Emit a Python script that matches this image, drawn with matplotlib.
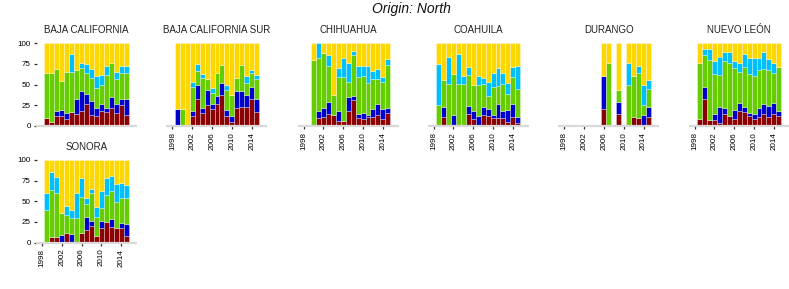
import matplotlib.pyplot as plt
import numpy as np

plt.rcParams['font.family'] = ['Liberation Sans', 'DejaVu Sans']

years = np.arange(1999, 2016)
n = np.nan

states = ["BAJA CALIFORNIA", "BAJA CALIFORNIA SUR", "CHIHUAHUA", "COAHUILA",
          "DURANGO", "NUEVO LEÓN", "SONORA"]

# shares in percent, bottom to top: red, blue, green, sky, gold
bc_red = [9, 4.5, 12, 12, 8, 17, 14, 18, 27, 13, 12, 18, 17, 22, 16, 25, 13]
bc_blue = [0, 0, 6, 7.5, 7, 0, 18, 24.5, 11.5, 17, 10, 8, 4, 13, 10, 7, 20]
bc_green = [54.5, 59, 51, 34.5, 50, 48, 36, 27.5, 25.5, 28, 24, 23, 40.5, 41, 31, 31.5, 30.5]
bc_sky = [0, 0, 0, 0, 0, 22, 0, 6, 11, 11, 14, 12.5, 11.5, 0, 8.5, 9.5, 9.5]
bc_gold = [36.5, 36.5, 31, 46, 35, 13, 32, 24, 25, 31, 40, 38.5, 27, 24, 34.5, 27, 27]

bcs_red = [0, 0, 0, 12, 33, 16, 25, 20, 27, 37, 12, 5, 21, 23, 23, 32, 17]
bcs_blue = [20, 0, 0, 6, 17, 5, 19, 7, 9, 15, 7, 7, 21, 19, 14, 15, 16]
bcs_green = [0, 20, 0, 29, 16.5, 37, 12.5, 13, 28, 22, 25, 25.5, 16, 31.5, 15, 17.5, 23.5]
bcs_sky = [0, 0, 0, 6, 8.5, 5, 0, 6, 0, 0, 5.5, 0, 0, 0, 8, 3.5, 4.5]
bcs_gold = [80, 80, 100, 47, 25, 37, 43.5, 54, 36, 26, 50.5, 62.5, 42, 26.5, 40, 32, 39]

chih_red = [n, 0, 9, 10.5, 14.5, 12.5, 6, 6, 18, 31.5, 10, 8, 10.5, 10.5, 13, 8.5, 15]
chih_blue = [n, 0, 9, 11.5, 14.5, 0, 12, 0, 17.5, 5, 4, 7, 3, 9.5, 13, 12, 6]
chih_green = [n, 80, 64, 66.5, 43, 25, 41, 53, 18, 49.5, 45, 45.5, 38, 36.5, 30.5, 32.5, 53]
chih_sky = [n, 0, 18, 0, 13.5, 0, 11.5, 23, 23, 4.5, 13.5, 11.5, 21, 10, 12, 6, 7]
chih_gold = [n, 20, 0, 11.5, 14.5, 62.5, 29.5, 18, 23.5, 9.5, 27.5, 28, 27.5, 33.5, 31.5, 41, 19]

coah_red = [0, 10.5, 0, 0, 0, 0, 14.5, 8.5, 0, 13.5, 12, 10, 9.5, 9, 5, 10.5, 3]
coah_blue = [0, 12, 0, 12.5, 0, 0, 9.5, 9, 11.5, 9, 8, 3.5, 17, 9, 14.5, 15.5, 7.5]
coah_green = [25, 33, 50.5, 50, 50.5, 50.5, 37.5, 32, 38, 28.5, 16.5, 33.5, 22, 33, 19, 33, 34]
coah_sky = [50, 0, 32.5, 0, 36.5, 9.5, 9.5, 0, 11, 7.5, 16, 17, 21, 13.5, 13.5, 12, 28]
coah_gold = [25, 44.5, 17, 37.5, 13, 40, 29, 50.5, 39.5, 41.5, 47.5, 36, 30.5, 35.5, 48, 29, 27.5]

dur_red = [n, n, n, n, n, n, n, 20, 0, n, 14.5, n, 0, 10.5, 10, 0, 11]
dur_blue = [n, n, n, n, n, n, n, 40.5, 0, n, 14.5, n, 0, 0, 0, 13, 12]
dur_green = [n, n, n, n, n, n, n, 0, 76, n, 14, n, 50, 50, 54, 12, 22]
dur_sky = [n, n, n, n, n, n, n, 0, 0, n, 0, n, 26, 0, 9, 25, 11]
dur_gold = [n, n, n, n, n, n, n, 39.5, 24, n, 57, n, 24, 39.5, 27, 50, 44]

nl_red = [8, 33, 7, 6.5, 3, 14.5, 12, 8, 18.5, 17, 12, 8, 11, 14, 11, 14.5, 12]
nl_blue = [0, 14, 0, 7.5, 19.5, 6.5, 0, 11, 9.5, 5.5, 4, 6.5, 10, 12.5, 13, 13, 6.5]
nl_green = [68.5, 39, 73, 49, 39, 58, 64, 51, 37, 49, 47, 45.5, 46.5, 42, 43.5, 36, 52.5]
nl_sky = [0, 7, 13, 16, 22.5, 10, 13, 8.5, 11, 15, 19.5, 22.5, 14.5, 21.5, 13, 12.5, 0]
nl_gold = [23.5, 7, 7, 21, 16, 11, 11, 21.5, 24, 13.5, 17.5, 17.5, 18, 10, 19.5, 24, 29]

son_red = [0, 7, 6.5, 0, 11, 0, 0, 11, 15.5, 20.5, 8, 17, 24.5, 19, 17, 17.5, 8]
son_blue = [0, 0, 0, 9, 0, 10, 0, 0, 15.5, 5, 0, 8.5, 0, 9, 0, 6.5, 14]
son_green = [39.5, 56.5, 53.5, 27, 22.5, 20, 30, 44.5, 15.5, 34, 23, 16, 33, 34.5, 32.5, 30.5, 31.5]
son_sky = [20.5, 21.5, 20, 0, 11, 10, 30, 22.5, 8, 5.5, 11.5, 21, 21, 18.5, 21, 18, 16.5]
son_gold = [40, 15, 20, 64, 55.5, 60, 40, 22, 45.5, 35, 57.5, 37.5, 21.5, 19, 29.5, 27.5, 30]

data = [
    [bc_red, bc_blue, bc_green, bc_sky, bc_gold],
    [bcs_red, bcs_blue, bcs_green, bcs_sky, bcs_gold],
    [chih_red, chih_blue, chih_green, chih_sky, chih_gold],
    [coah_red, coah_blue, coah_green, coah_sky, coah_gold],
    [dur_red, dur_blue, dur_green, dur_sky, dur_gold],
    [nl_red, nl_blue, nl_green, nl_sky, nl_gold],
    [son_red, son_blue, son_green, son_sky, son_gold],
]

colors = ["#8B0000", "#0000CD", "#66CD00", "#00BFFF", "#FFD700"]

W, H = 789, 289
fig = plt.figure(figsize=(W / 100, H / 100), dpi=100)

lefts = [37, 167.5, 298.7, 428.7, 559.4, 689.7, 37]
tops = [43.3] * 6 + [160]
pw, ph = 99, 82.5

for k, state in enumerate(states):
    ax = fig.add_axes([lefts[k] / W, 1 - (tops[k] + ph) / H, pw / W, ph / H])
    bottom = np.zeros(len(years))
    for vals, c in zip(data[k], colors):
        v = np.array(vals, dtype=float)
        ok = ~np.isnan(v)
        ax.bar(years[ok], v[ok], width=1.0, bottom=bottom[ok], color=c,
               edgecolor=(1, 1, 1, 0.45), linewidth=0.5)
        bottom = bottom + np.nan_to_num(v)

    ax.set_xlim(1997, 2017)
    ax.set_ylim(0, 100)
    for s in ["top", "right", "left"]:
        ax.spines[s].set_visible(False)
    ax.spines["bottom"].set_color("#d9d9d9")
    ax.spines["bottom"].set_linewidth(1.6)

    ax.set_xticks([1998, 2002, 2006, 2010, 2014])
    ax.tick_params(axis="both", length=2.5, width=0.9, color="#333333",
                   labelsize=5.8, pad=2)
    if k == 0:
        ax.tick_params(axis="x", bottom=False, labelbottom=False)
    else:
        ax.set_xticklabels([1998, 2002, 2006, 2010, 2014], rotation=90)

    if k in (0, 6):
        ax.set_yticks([0, 25, 50, 75, 100])
    else:
        ax.set_yticks([])

    ax.text(0.5, 1 + 13 / ph, state, transform=ax.transAxes,
            ha="center", va="center", fontsize=7, color="#222222")

fig.text(411 / W, 1 - 9 / H, "Origin: North", ha="center", va="center",
         fontsize=10, style="italic", color="#111111")

fig.savefig("out.png", dpi=100)
